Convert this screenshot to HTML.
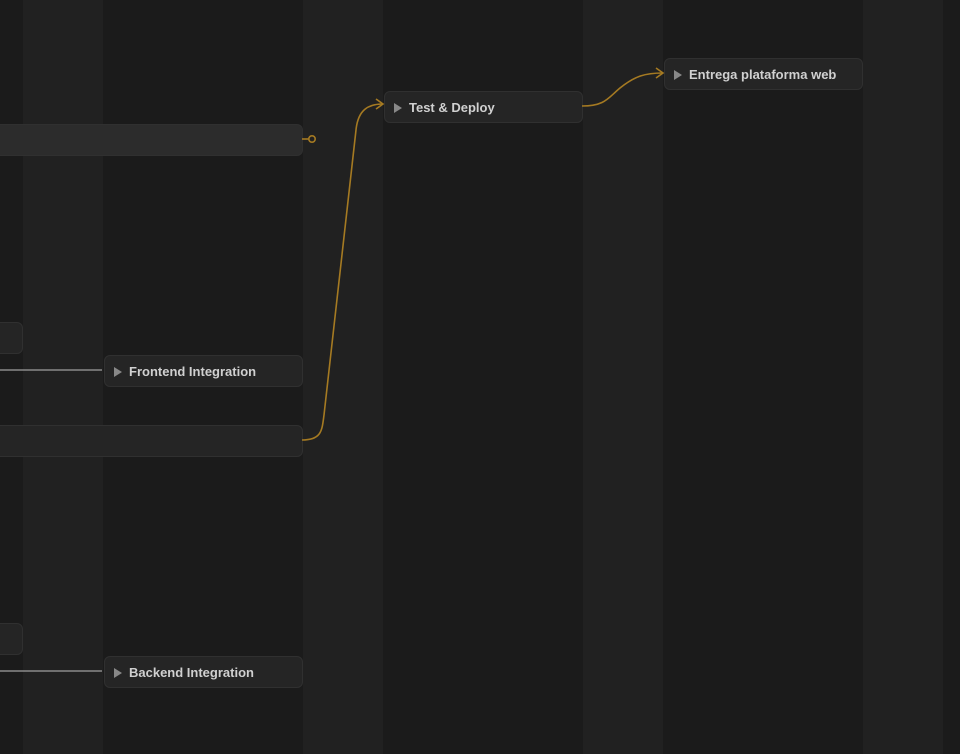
<!DOCTYPE html>
<html><head><style>
body{margin:0;width:960px;height:754px;overflow:hidden;background:#1b1b1b;font-family:"Liberation Sans",sans-serif;position:relative}
.s{position:absolute;top:0;height:754px;width:80px;background:#212121}
.n{position:absolute;box-sizing:border-box;background:#252525;border:1px solid #303030;border-radius:6px;color:#d0d0d0;font-weight:bold;font-size:13px;line-height:31px;padding-left:24px;height:32px}
.n:before{content:"";position:absolute;left:9px;top:11px;border-left:8px solid #888;border-top:5px solid transparent;border-bottom:5px solid transparent}
.b{position:absolute;box-sizing:border-box;background:#252525;border:1px solid #303030;border-radius:0 6px 6px 0;height:32px;left:-2px}
</style></head><body>
<div class="s" style="left:23px"></div><div class="s" style="left:303px"></div><div class="s" style="left:583px"></div><div class="s" style="left:863px"></div>
<div class="b" style="top:124px;width:305px;background:#2c2c2c"></div>
<div class="b" style="top:322px;width:25px"></div>
<div class="b" style="top:425px;width:305px"></div>
<div class="b" style="top:623px;width:25px"></div>
<div class="n" style="left:384px;top:91px;width:199px">Test &amp; Deploy</div>
<div class="n" style="left:664px;top:58px;width:199px">Entrega plataforma web</div>
<div class="n" style="left:104px;top:355px;width:199px">Frontend Integration</div>
<div class="n" style="left:104px;top:656px;width:199px">Backend Integration</div>
<svg width="960" height="754" style="position:absolute;left:0;top:0">
<g fill="none" stroke="#a57a22" stroke-width="1.6">
<path d="M302 139 H309"/><circle cx="312" cy="139" r="3.2" stroke-width="1.6"/>
<path d="M302 440 C322 440 322 430 324 415 L356 130 C358 110 368 104 383 104"/>
<path d="M376 99 L383 104 L376 109"/>
<path d="M582 106 C605 106 608 98 620 88 C635 76 645 73 663 73"/>
<path d="M656 68 L663 73 L656 78"/>
</g>
<g stroke="#8a8a8a" stroke-width="1.5"><path d="M0 370 H102"/><path d="M0 671 H102"/></g>
</svg>
</body></html>
